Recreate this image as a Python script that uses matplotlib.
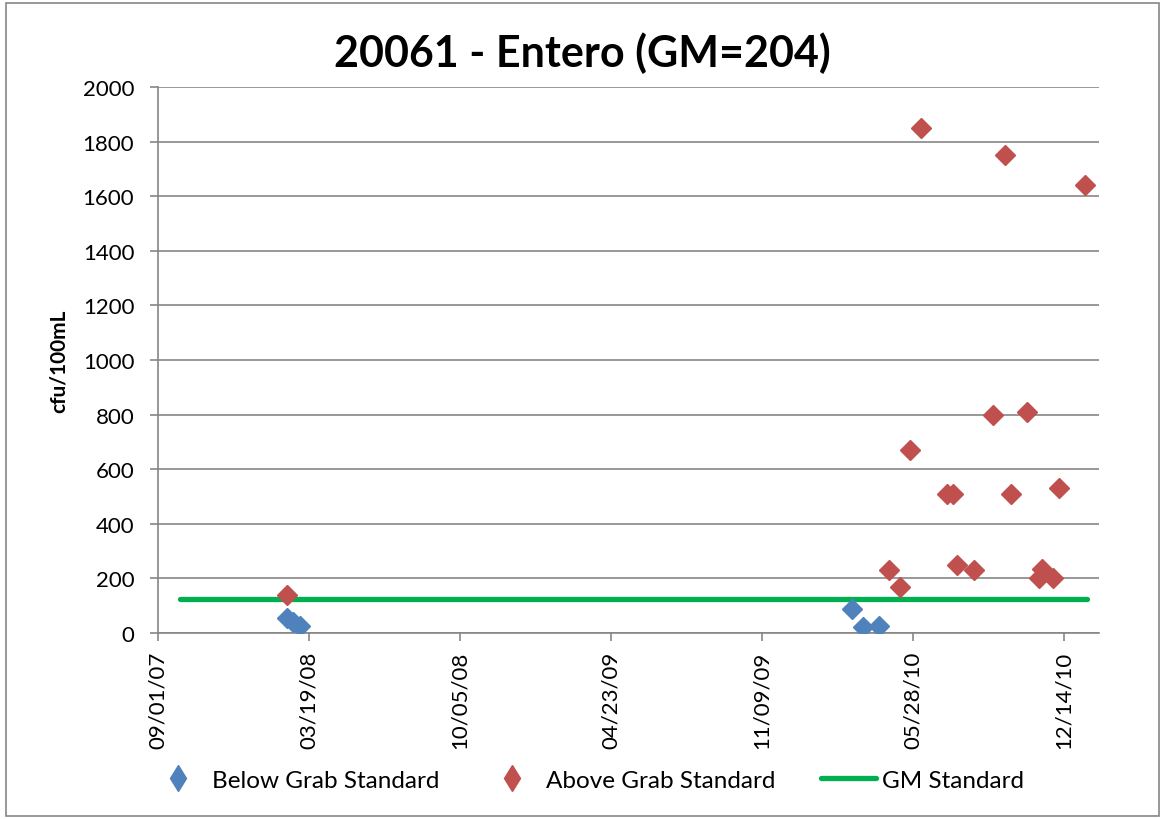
import matplotlib
matplotlib.use("Agg")
import matplotlib.pyplot as plt
import matplotlib.dates as mdates
from matplotlib.patches import Rectangle
from matplotlib.ticker import FixedLocator
from matplotlib.legend_handler import HandlerLine2D
import numpy as np
import pandas as pd

# data
below_dates = ["2008-02-19", "2008-02-27", "2008-03-07",
               "2010-03-09", "2010-03-23", "2010-04-14"]
below_vals = [55, 40, 25, 88, 22, 27]

above_dates = ["2008-02-19", "2010-04-27", "2010-05-11", "2010-05-24", "2010-06-08",
               "2010-07-12", "2010-07-20", "2010-07-26", "2010-08-17", "2010-09-12",
               "2010-09-28", "2010-10-06", "2010-10-27", "2010-11-11", "2010-11-16",
               "2010-11-30", "2010-12-08", "2011-01-11"]
above_vals = [140, 230, 170, 670, 1850, 510, 510, 250, 230, 800,
              1750, 510, 810, 200, 235, 200, 530, 1640]

gm_dates = ["2007-09-30", "2011-01-14"]
gm_vals = [125, 125]

title = "20061 - Entero (GM=204)"
ylabel = "cfu/100mL"

plt.rcParams['font.family'] = ['Lato', 'DejaVu Sans']

fig = plt.figure(figsize=(11.61, 8.2), dpi=100)
ax = fig.add_axes([0.136, 0.2268, 0.8106, 0.6659])

grid_c = "#868686"
gm_line, = ax.plot(pd.to_datetime(gm_dates), gm_vals, color="#00B050", lw=3.8,
                   solid_capstyle="round", label="GM Standard", zorder=2)
below_pts, = ax.plot(pd.to_datetime(below_dates), below_vals, ls="none", marker="D",
                     ms=10, color="#4F81BD", label="Below Grab Standard", zorder=3)
above_pts, = ax.plot(pd.to_datetime(above_dates), above_vals, ls="none", marker="D",
                     ms=10, color="#C0504D", label="Above Grab Standard", zorder=3)

start = mdates.date2num(pd.Timestamp("2007-09-01"))
ax.set_xlim(start, start + 1247)
ax.xaxis.set_major_locator(FixedLocator(np.arange(start, start + 1201, 200)))
ax.xaxis.set_major_formatter(mdates.DateFormatter("%m/%d/%y"))
ax.set_ylim(0, 2000)
ax.set_yticks(np.arange(0, 2001, 200))

ax.grid(axis="y", color=grid_c, lw=1.2)
ax.set_axisbelow(True)
for s in ["top", "right"]:
    ax.spines[s].set_visible(False)
for s in ["left", "bottom"]:
    ax.spines[s].set_color(grid_c)
    ax.spines[s].set_linewidth(1.2)
ax.tick_params(axis="both", colors=grid_c, labelcolor="black", labelsize=16,
               length=6, width=1.2)
ax.tick_params(axis="y", pad=11)
ax.tick_params(axis="x", labelrotation=90, pad=7)

ax.set_ylabel(ylabel, fontsize=15, fontweight="bold", labelpad=10)
fig.text(0.502, 0.935, title, ha="center", va="center", fontsize=31,
         fontweight="bold")


def thin_diamond(legend_line, orig):
    # legend markers are drawn as narrow diamonds, as in the original
    legend_line.update_from(orig)
    legend_line.set_marker("d")
    legend_line.set_markersize(13)


marker_handler = HandlerLine2D(update_func=thin_diamond)
fig.legend([below_pts, above_pts, gm_line],
           ["Below Grab Standard", "Above Grab Standard", "GM Standard"],
           handler_map={below_pts: marker_handler, above_pts: marker_handler},
           loc="center", bbox_to_anchor=(0.506, 0.047), ncol=3, frameon=False,
           fontsize=17.5, handlelength=2.25, columnspacing=1.9, handletextpad=0.25)

fig.add_artist(Rectangle((6 / 1161, 3 / 820), 1153 / 1161, 813 / 820,
                         transform=fig.transFigure, fill=False,
                         edgecolor=grid_c, lw=1.2))

fig.savefig("out.png", dpi=100)
